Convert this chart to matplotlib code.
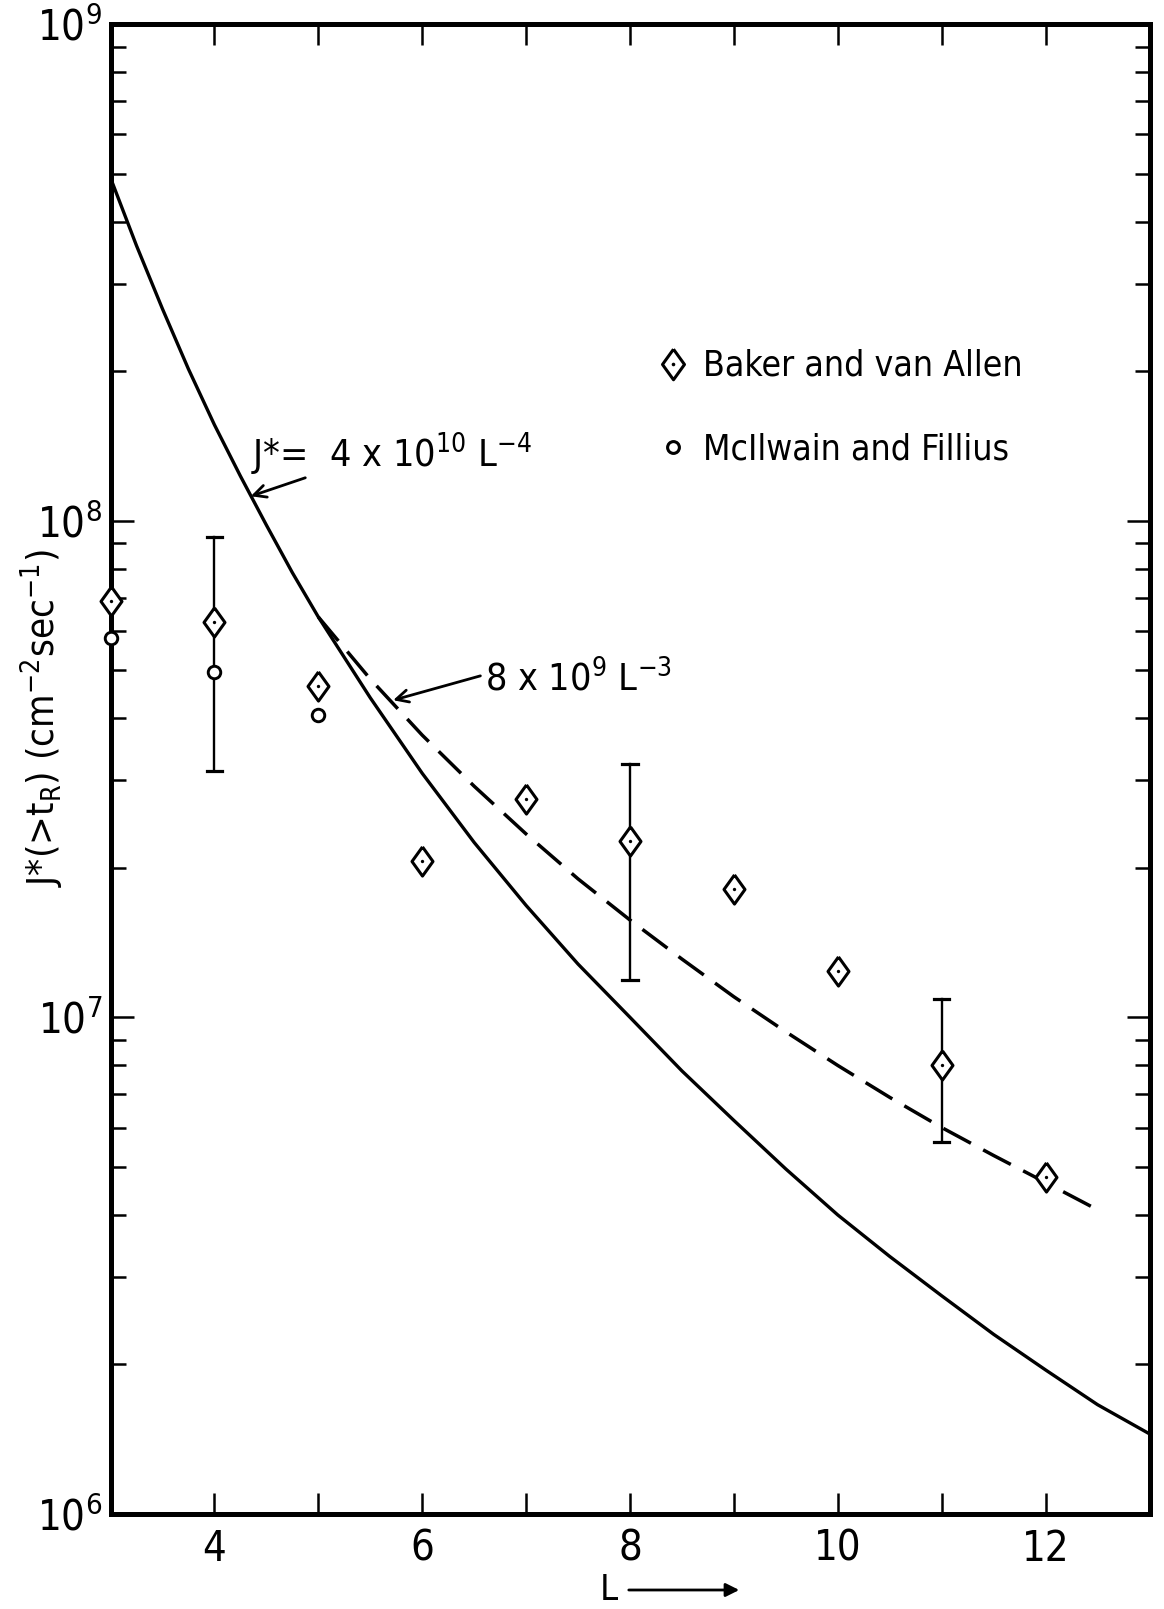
import matplotlib
matplotlib.use("Agg")
import matplotlib.pyplot as plt
from matplotlib.lines import Line2D
from matplotlib.legend_handler import HandlerTuple

plt.rcParams['font.family'] = ['DejaVu Sans']
plt.rcParams['font.stretch'] = 'condensed'
plt.rcParams['mathtext.fontset'] = 'custom'
plt.rcParams['mathtext.rm'] = 'DejaVu Sans:stretch=condensed'
plt.rcParams['mathtext.it'] = 'DejaVu Sans:stretch=condensed'
plt.rcParams['mathtext.bf'] = 'DejaVu Sans:stretch=condensed'

# ---- data ----
L_solid = [3.0, 3.25, 3.5, 3.75, 4.0, 4.25, 4.5, 4.75, 5.0, 5.5, 6.0, 6.5, 7.0,
           7.5, 8.0, 8.5, 9.0, 9.5, 10.0, 10.5, 11.0, 11.5, 12.0, 12.5, 13.0]
J_solid = [4.9e8, 3.58e8, 2.67e8, 2.02e8, 1.56e8, 1.23e8, 9.8e7, 7.86e7, 6.4e7,
           4.4e7, 3.1e7, 2.25e7, 1.68e7, 1.28e7, 1.0e7, 7.8e6, 6.2e6, 4.95e6,
           4.0e6, 3.3e6, 2.75e6, 2.3e6, 1.95e6, 1.66e6, 1.45e6]

L_dash = [5.0, 5.5, 6.0, 6.5, 7.0, 7.5, 8.0, 8.5, 9.0, 9.5, 10.0, 10.5,
          11.0, 11.5, 12.0, 12.45]
J_dash = [6.4e7, 4.8e7, 3.7e7, 2.92e7, 2.34e7, 1.9e7, 1.57e7, 1.31e7, 1.1e7,
          9.35e6, 8.0e6, 6.9e6, 6.0e6, 5.27e6, 4.65e6, 4.15e6]

L_baker = [3, 4, 5, 6, 7, 8, 9, 10, 11, 12]
J_baker = [6.9e7, 6.25e7, 4.65e7, 2.06e7, 2.75e7, 2.27e7, 1.81e7, 1.24e7, 8.0e6, 4.78e6]

L_err = [4, 8, 11]
J_err_hi = [9.25e7, 3.23e7, 1.09e7]
J_err_lo = [3.14e7, 1.19e7, 5.6e6]

L_mcil = [3, 4, 5]
J_mcil = [5.8e7, 4.95e7, 4.06e7]

x_ticks = [4, 6, 8, 10, 12]
x_minor = [5, 7, 9, 11]
y_ticks = [1e6, 1e7, 1e8, 1e9]
y_ticklabels = ['$10^{6}$', '$10^{7}$', '$10^{8}$', '$10^{9}$']

DIAMOND = [(0, 1), (0.72, 0), (0, -1), (-0.72, 0), (0, 1)]

W, H = 1164, 1609
fig = plt.figure(figsize=(W / 100, H / 100), dpi=100)
fig.patch.set_facecolor('white')
ax = fig.add_axes([110.5 / W, 1 - 1514 / H, 1039 / W, 1490 / H])

ax.set_yscale('log')
ax.set_xlim(3, 13)
ax.set_ylim(1e6, 1e9)

# curves
ax.plot(L_solid, J_solid, color='black', lw=2.4, solid_capstyle='butt',
        solid_joinstyle='round', zorder=3)
ax.plot(L_dash, J_dash, color='black', lw=2.5, dashes=(9, 4), zorder=3)

# error bars
for x, lo, hi in zip(L_err, J_err_lo, J_err_hi):
    ax.plot([x, x], [lo, hi], color='black', lw=1.7, zorder=4)
    for v in (lo, hi):
        ax.plot([x - 0.075, x + 0.075], [v, v], color='black', lw=2.3, zorder=4)

# markers
ax.plot(L_baker, J_baker, linestyle='none', marker=DIAMOND, ms=21,
        mfc='white', mec='black', mew=2.2, zorder=6, clip_on=False)
ax.plot(L_baker, J_baker, linestyle='none', marker='o', ms=2.4,
        mfc='black', mec='black', mew=0, zorder=7, clip_on=False)
ax.plot(L_mcil, J_mcil, linestyle='none', marker='o', ms=9,
        mfc='white', mec='black', mew=2.1, zorder=6, clip_on=False)

# ticks
ax.set_xticks(x_ticks)
ax.set_xticklabels([str(t) for t in x_ticks])
ax.set_xticks(x_minor, minor=True)
ax.set_yticks(y_ticks)
ax.set_yticklabels(y_ticklabels)
ax.yaxis.set_minor_locator(matplotlib.ticker.LogLocator(base=10, subs=range(2, 10)))
ax.yaxis.set_minor_formatter(matplotlib.ticker.NullFormatter())

ax.tick_params(axis='x', which='both', direction='in', top=True, bottom=True,
               length=15, width=1.8, labelsize=30, pad=10)
ax.tick_params(axis='y', which='major', direction='in', left=True, right=True,
               length=16.5, width=1.8, labelsize=30, pad=6)
ax.tick_params(axis='y', which='minor', direction='in', left=True, right=True,
               length=11, width=1.8)
for s in ax.spines.values():
    s.set_linewidth(3.6)

# legend
h_baker = (Line2D([], [], ls='none', marker=DIAMOND, ms=22, mfc='white', mec='black', mew=2.2),
           Line2D([], [], ls='none', marker='o', ms=2.6, mfc='black', mec='black', mew=0))
h_mcil = Line2D([], [], ls='none', marker='o', ms=8.5, mfc='white', mec='black', mew=2.2)
leg = ax.legend([h_baker, h_mcil], ['Baker and van Allen', 'McIlwain and Fillius'],
                handler_map={tuple: HandlerTuple(ndivide=1, pad=0)},
                loc='upper left', bbox_to_anchor=(655 / W, 1 - 349 / H),
                bbox_transform=fig.transFigure, frameon=False, fontsize=25.5,
                handlelength=1.0, handletextpad=0.35, labelspacing=1.39,
                borderpad=0, borderaxespad=0)

# annotations
ax.text(4.35, 1.28e8, r'J*=  4 x 10$^{10}$ L$^{-4}$', fontsize=27,
        ha='left', va='baseline')
ax.annotate('', xy=(4.35, 1.12e8), xytext=(4.875, 1.22e8),
            arrowprops=dict(arrowstyle='->', lw=2.0, color='black',
                            mutation_scale=22, shrinkA=0, shrinkB=0))
ax.text(6.6, 4.53e7, r'8 x 10$^{9}$ L$^{-3}$', fontsize=27,
        ha='left', va='baseline')
ax.annotate('', xy=(5.72, 4.35e7), xytext=(6.56, 4.87e7),
            arrowprops=dict(arrowstyle='->', lw=2.0, color='black',
                            mutation_scale=22, shrinkA=0, shrinkB=0))

# axis labels
fig.text(42 / W, 1 - 718 / H, r'J*(>t$_R$) (cm$^{-2}$sec$^{-1}$)', rotation=90,
         fontsize=27.5, ha='center', va='center')
fig.text(600 / W, 1 - 1590 / H, 'L', fontsize=26, ha='left', va='center')
fig.add_artist(matplotlib.patches.FancyArrowPatch(
    (626 / W, 1 - 1590 / H), (742 / W, 1 - 1590 / H), transform=fig.transFigure,
    arrowstyle='-|>', mutation_scale=20, lw=2.0, color='black'))

fig.savefig('out.png', dpi=100, facecolor='white')
